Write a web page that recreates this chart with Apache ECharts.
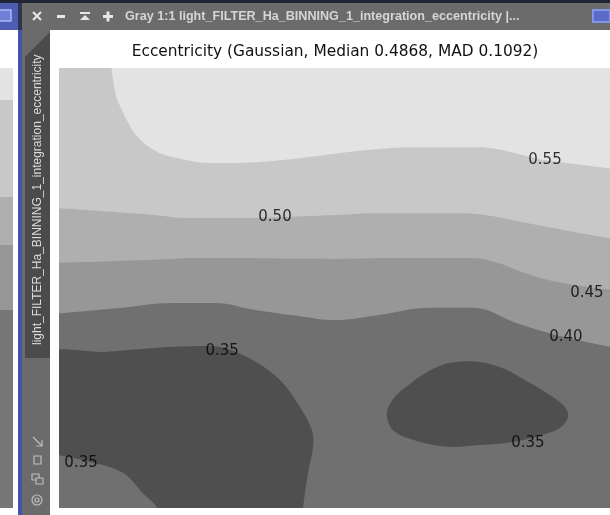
<!DOCTYPE html>
<html>
<head>
<meta charset="utf-8">
<script src="https://cdn.jsdelivr.net/npm/echarts@6/dist/echarts.min.js"></script>
<style>
  html, body { margin: 0; padding: 0; background: #ffffff; }
  #chart { width: 610px; height: 515px; }
</style>
</head>
<body>
<div id="chart"></div>
<script>
// Contour levels of the eccentricity map and the fill of each band
const levels = [0.35, 0.40, 0.45, 0.50, 0.55];
const bandBelow035 = '#4f4f4f';
const band035to040 = '#707070';
const band040to045 = '#979797';
const band045to050 = '#afafaf';
const band050to055 = '#c8c8c8';
const bandAbove055 = '#e3e3e3';

// Iso-lines in normalised image coordinates (x: left→right, y: bottom→top)
const iso040 = [[-0.01,0.441],[0.114,0.455],[0.205,0.466],[0.283,0.466],[0.356,0.450],[0.437,0.436],[0.501,0.427],[0.583,0.439],[0.673,0.455],[0.751,0.455],[0.831,0.420],[0.915,0.389],[1.01,0.364]];
const iso045 = [[-0.01,0.557],[0.093,0.561],[0.174,0.564],[0.247,0.568],[0.501,0.566],[0.601,0.568],[0.746,0.568],[0.791,0.559],[0.855,0.530],[0.915,0.511],[1.01,0.495]];
const iso050 = [[-0.01,0.682],[0.074,0.675],[0.174,0.666],[0.234,0.659],[0.328,0.659],[0.392,0.661],[0.501,0.666],[0.570,0.670],[0.733,0.670],[0.782,0.664],[0.831,0.652],[0.915,0.632],[1.01,0.611]];
const iso055 = [[0.094,1.014],[0.103,0.939],[0.114,0.905],[0.129,0.868],[0.143,0.843],[0.169,0.816],[0.205,0.798],[0.283,0.784],[0.356,0.786],[0.437,0.795],[0.501,0.805],[0.564,0.814],[0.642,0.820],[0.751,0.820],[0.782,0.818],[0.855,0.798],[0.882,0.791],[0.936,0.782],[1.01,0.770]];

// Closed regions below 0.35 and the rising corner at the lower left
const lowLeft035 = [[-0.034,0.345],[0.087,0.355],[0.178,0.364],[0.256,0.368],[0.298,0.364],[0.352,0.336],[0.401,0.291],[0.437,0.230],[0.459,0.177],[0.461,0.139],[0.452,0.080],[0.443,0.0],[0.441,-0.05],[0.20,-0.07],[-0.06,-0.06],[-0.07,0.15]];
const cornerUp035 = [[-0.05,0.128],[0.0,0.120],[0.056,0.105],[0.116,0.080],[0.152,0.034],[0.178,0.0],[0.19,-0.05],[0.05,-0.07],[-0.07,-0.05]];
const lowRight035 = [[0.595,0.216],[0.608,0.250],[0.632,0.277],[0.668,0.309],[0.710,0.330],[0.764,0.332],[0.809,0.316],[0.840,0.295],[0.886,0.261],[0.915,0.234],[0.924,0.211],[0.913,0.186],[0.887,0.170],[0.824,0.150],[0.764,0.143],[0.704,0.139],[0.642,0.155],[0.606,0.177]];

// Inline contour labels: [x, y, level]
const contourLabels = [[0.882,0.791,0.55],[0.392,0.661,0.50],[0.958,0.489,0.45],[0.920,0.389,0.40],[0.296,0.357,0.35],[0.851,0.148,0.35],[0.040,0.102,0.35]];

const chartTitle = 'Eccentricity (Gaussian, Median 0.4868, MAD 0.1092)';
const windowTitle = 'Gray 1:1 light_FILTER_Ha_BINNING_1_integration_eccentricity |...';
const viewId = 'light_FILTER_Ha_BINNING_1_integration_eccentricity';

function bandLine(name, pts, color) {
  return {
    name: name, type: 'line', data: pts, smooth: 0.4, showSymbol: false, silent: true,
    lineStyle: { width: 0 }, areaStyle: { color: color, opacity: 1, origin: 'end' },
    clip: true, animation: false, z: 2
  };
}
function regionPolygon(name, pts, color) {
  return {
    name: name, type: 'custom', clip: true, silent: true, animation: false, z: 3,
    data: [0],
    renderItem: function (params, api) {
      return {
        type: 'polygon',
        shape: { points: pts.map(function (p) { return api.coord(p); }), smooth: 0.35 },
        style: { fill: color, stroke: null }
      };
    }
  };
}

const chrome = '#6b6b6b';
const iconColor = '#e6e6e6';
const sideIcon = '#bdbdbd';
const graphics = [
  { type: 'rect', shape: { x: 0, y: 0, width: 610, height: 3 }, style: { fill: '#1f2535' } },
  { type: 'rect', shape: { x: 0, y: 3, width: 18, height: 27 }, style: { fill: '#4c5db3' } },
  { type: 'rect', shape: { x: -3, y: 10, width: 14, height: 11 }, style: { fill: '#6f80d6', stroke: '#a9b8f2', lineWidth: 1.5 } },
  { type: 'rect', shape: { x: 18, y: 3, width: 4, height: 27 }, style: { fill: '#2c3550' } },
  { type: 'rect', shape: { x: 22, y: 3, width: 588, height: 27 }, style: { fill: chrome } },
  { type: 'rect', shape: { x: 593, y: 10, width: 17, height: 12 }, style: { fill: '#5a6cc8', stroke: '#8294e6', lineWidth: 2 } },
  // window buttons
  { type: 'line', shape: { x1: 33, y1: 12, x2: 41, y2: 20 }, style: { stroke: iconColor, lineWidth: 2.2 } },
  { type: 'line', shape: { x1: 41, y1: 12, x2: 33, y2: 20 }, style: { stroke: iconColor, lineWidth: 2.2 } },
  { type: 'rect', shape: { x: 57, y: 15, width: 8, height: 3 }, style: { fill: iconColor } },
  { type: 'rect', shape: { x: 80, y: 12, width: 10, height: 2 }, style: { fill: iconColor } },
  { type: 'polygon', shape: { points: [[80, 20], [90, 20], [85, 15]] }, style: { fill: iconColor } },
  { type: 'rect', shape: { x: 103, y: 15, width: 10, height: 3 }, style: { fill: iconColor } },
  { type: 'rect', shape: { x: 106.5, y: 11.5, width: 3, height: 10 }, style: { fill: iconColor } },
  { type: 'text', x: 125, y: 17, style: { text: windowTitle, fill: '#d6d6d6', font: 'bold 12.6px "Liberation Sans"', textVerticalAlign: 'middle' } },
  // neighbouring view, partially visible
  { type: 'rect', shape: { x: 0, y: 68, width: 13, height: 32 }, style: { fill: '#e3e3e3' } },
  { type: 'rect', shape: { x: 0, y: 100, width: 13, height: 97 }, style: { fill: '#c8c8c8' } },
  { type: 'rect', shape: { x: 0, y: 197, width: 13, height: 48 }, style: { fill: '#afafaf' } },
  { type: 'rect', shape: { x: 0, y: 245, width: 13, height: 65 }, style: { fill: '#979797' } },
  { type: 'rect', shape: { x: 0, y: 310, width: 13, height: 198 }, style: { fill: '#777777' } },
  { type: 'rect', shape: { x: 18, y: 30, width: 4, height: 485 }, style: { fill: '#4252a8' } },
  // side bar with the view identifier tab
  { type: 'rect', shape: { x: 22, y: 30, width: 28, height: 485 }, style: { fill: chrome } },
  { type: 'polygon', shape: { points: [[25, 57], [50, 32], [50, 358], [25, 358]] }, style: { fill: '#4b4b4b' } },
  { type: 'text', x: 38, y: 345, rotation: Math.PI / 2, style: { text: viewId, fill: '#dcdcdc', font: '12px "Liberation Sans"', textVerticalAlign: 'middle', textAlign: 'left' } },
  { type: 'line', shape: { x1: 33, y1: 437, x2: 42, y2: 446 }, style: { stroke: sideIcon, lineWidth: 1.2 } },
  { type: 'polyline', shape: { points: [[42, 440], [42, 446], [36, 446]] }, style: { stroke: sideIcon, lineWidth: 1.2, fill: null } },
  { type: 'rect', shape: { x: 34, y: 456, width: 7, height: 8 }, style: { stroke: sideIcon, lineWidth: 1.2, fill: null } },
  { type: 'rect', shape: { x: 32, y: 474, width: 7, height: 6 }, style: { stroke: sideIcon, lineWidth: 1.2, fill: null } },
  { type: 'rect', shape: { x: 36, y: 478, width: 7, height: 6 }, style: { stroke: sideIcon, lineWidth: 1.2, fill: chrome } },
  { type: 'circle', shape: { cx: 37, cy: 500, r: 5 }, style: { stroke: sideIcon, lineWidth: 1.2, fill: null } },
  { type: 'circle', shape: { cx: 37, cy: 500, r: 2 }, style: { stroke: sideIcon, lineWidth: 1.2, fill: null } }
];

const chart = echarts.init(document.getElementById('chart'), null, { renderer: 'canvas' });
chart.setOption({
  animation: false,
  backgroundColor: '#ffffff',
  title: {
    text: chartTitle, left: 330, top: 39, textAlign: 'center',
    textStyle: { fontFamily: 'DejaVu Sans', fontSize: 15.4, fontWeight: 'normal', color: '#111111' }
  },
  grid: { left: 59, top: 68, right: 0, bottom: 7, show: true, backgroundColor: band035to040, borderWidth: 0 },
  xAxis: { type: 'value', min: 0, max: 1, show: false },
  yAxis: { type: 'value', min: 0, max: 1, show: false },
  graphic: graphics,
  series: [
    bandLine('iso 0.40', iso040, band040to045),
    bandLine('iso 0.45', iso045, band045to050),
    bandLine('iso 0.50', iso050, band050to055),
    bandLine('iso 0.55', iso055, bandAbove055),
    regionPolygon('below 0.35 (left)', lowLeft035, bandBelow035),
    regionPolygon('corner 0.35-0.40', cornerUp035, band035to040),
    regionPolygon('below 0.35 (right)', lowRight035, bandBelow035),
    {
      name: 'levels', type: 'scatter', data: contourLabels, symbolSize: 0, silent: true, z: 5,
      label: {
        show: true, position: 'inside', color: '#000000', fontFamily: 'DejaVu Sans', fontSize: 15,
        formatter: function (p) { return p.value[2].toFixed(2); }
      }
    }
  ]
});
</script>
</body>
</html>
